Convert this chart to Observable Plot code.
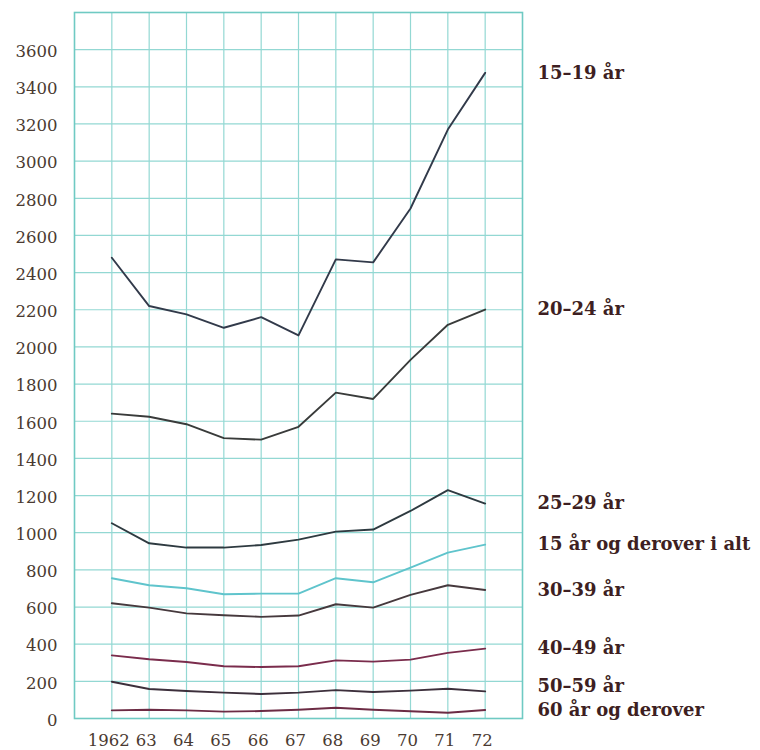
<!DOCTYPE html>
<html>
<head>
<meta charset="utf-8">
<script src="https://cdn.jsdelivr.net/npm/d3@7"></script>
<script src="https://cdn.jsdelivr.net/npm/@observablehq/plot@0.6"></script>
<style>
  body { margin: 0; background: #fff; }
  #chart svg { overflow: visible; }
</style>
</head>
<body>
<div id="chart"></div>
<script>
// Years on the x axis and how each is printed
const years = [1962, 1963, 1964, 1965, 1966, 1967, 1968, 1969, 1970, 1971, 1972];
const yearLabels = ["1962", "63", "64", "65", "66", "67", "68", "69", "70", "71", "72"];

// Y axis tick values
const yTicks = [0, 200, 400, 600, 800, 1000, 1200, 1400, 1600, 1800, 2000, 2200, 2400, 2600, 2800, 3000, 3200, 3400, 3600];

// Age groups (series names)
const groups = ["15–19 år", "20–24 år", "25–29 år", "15 år og derover i alt", "30–39 år", "40–49 år", "50–59 år", "60 år og derover"];

// Series values, one per year
const age15_19 = [2480, 2220, 2175, 2103, 2160, 2062, 2471, 2455, 2745, 3170, 3475];
const age20_24 = [1641, 1624, 1584, 1509, 1501, 1570, 1754, 1720, 1930, 2119, 2201];
const age25_29 = [1051, 943, 920, 920, 934, 963, 1006, 1017, 1117, 1229, 1157];
const ageTotal = [755, 717, 701, 669, 672, 672, 755, 733, 812, 893, 936];
const age30_39 = [620, 597, 566, 556, 547, 554, 615, 597, 665, 717, 692];
const age40_49 = [340, 319, 304, 281, 277, 281, 313, 306, 317, 353, 376];
const age50_59 = [198, 159, 148, 139, 132, 139, 153, 143, 150, 160, 146];
const age60plus = [44, 47, 44, 37, 40, 47, 58, 47, 39, 31, 46];

const seriesValues = [age15_19, age20_24, age25_29, ageTotal, age30_39, age40_49, age50_59, age60plus];

// Line colours per group (printed inks)
const lineColors = ["#323a4a", "#393b3a", "#2e3a40", "#5fc4cc", "#46393d", "#7a2c4c", "#3c2f3b", "#6c2b44"];

// Long table for the line mark
const rows = groups.flatMap((g, gi) =>
  years.map((yr, i) => ({ group: g, year: yr, value: seriesValues[gi][i] }))
);
const lastPoints = groups.map((g, gi) => ({ group: g, year: years[years.length - 1], value: seriesValues[gi][years.length - 1] }));
const colorOf = Object.fromEntries(groups.map((g, i) => [g, lineColors[i]]));

const gridColor = "#93d8d3";
const textColor = "#4a3a31";
const labelColor = "#3e1f22";

const chart = Plot.plot({
  width: 760,
  height: 750,
  marginLeft: 74,
  marginRight: 238,
  marginTop: 12,
  marginBottom: 32,
  style: { fontFamily: "DejaVu Serif", background: "#fff", overflow: "visible" },
  x: { domain: [1961, 1973], axis: null },
  y: { domain: [0, 3800], axis: null },
  marks: [
    // grid
    Plot.ruleX(years, { stroke: gridColor, strokeWidth: 1.2 }),
    Plot.ruleY(d3.range(200, 3800, 200), { stroke: gridColor, strokeWidth: 1.2 }),
    Plot.frame({ stroke: "#6fcac3", strokeWidth: 1.6 }),
    // series
    Plot.line(rows, {
      x: "year", y: "value", z: "group",
      stroke: d => colorOf[d.group],
      strokeWidth: 1.9, strokeLinejoin: "round"
    }),
    // y tick labels
    Plot.text(yTicks, {
      x: 1961, y: d => d, text: d => String(d),
      dx: -17, dy: 2, textAnchor: "end",
      fontSize: 16.5, fill: textColor
    }),
    // x tick labels
    Plot.text(years, {
      x: d => d, y: 0, text: (d, i) => yearLabels[i],
      dy: 22, dx: -3, fontSize: 16.5, fill: textColor
    }),
    // series labels at the right
    Plot.text(lastPoints.filter(d => d.group !== "50–59 år"), {
      x: 1973, y: "value", text: "group",
      dx: 15, textAnchor: "start",
      fontSize: 18, fontWeight: "bold", fill: labelColor
    }),
    Plot.text(lastPoints.filter(d => d.group === "50–59 år"), {
      x: 1973, y: "value", text: "group",
      dx: 15, dy: -5, textAnchor: "start",
      fontSize: 18, fontWeight: "bold", fill: labelColor
    })
  ]
});

document.getElementById("chart").appendChild(chart);
</script>
</body>
</html>
